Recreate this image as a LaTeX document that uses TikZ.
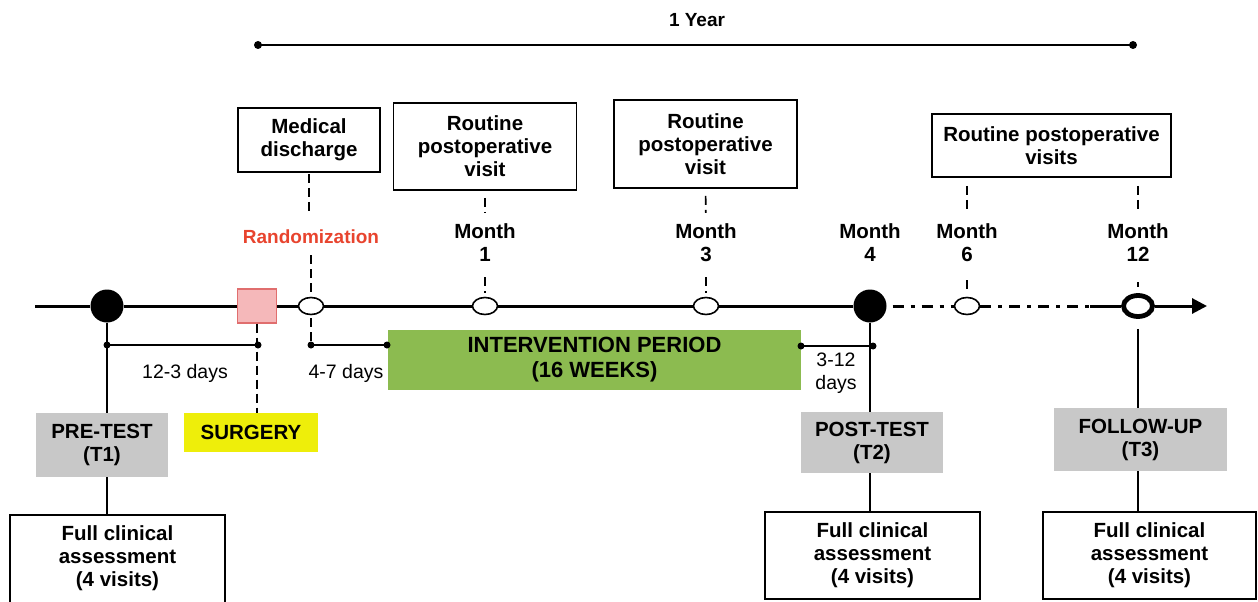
\documentclass[tikz,border=0pt]{standalone}
\usepackage{fontspec}
\setmainfont{Liberation Sans}
\usetikzlibrary{shapes.geometric,arrows.meta}
\definecolor{greyfill}{HTML}{C8C8C8}
\definecolor{yellowfill}{HTML}{EEEE0A}
\definecolor{greenfill}{HTML}{8CBB50}
\definecolor{pinkfill}{HTML}{F5B8BA}
\definecolor{pinkdraw}{HTML}{E06E6E}
\definecolor{randred}{HTML}{E8442E}
\begin{document}
\begin{tikzpicture}[x=1pt,y=-1pt,
  lbl/.style={font=\bfseries\fontsize{20.5}{23}\selectfont, align=center, inner sep=0pt},
  reg/.style={font=\fontsize{19.5}{23}\selectfont, align=center, inner sep=0pt},
  wbox/.style={lbl, draw, line width=1.8pt, fill=white},
  gbox/.style={lbl, fill=greyfill},
  tl/.style={line width=3pt},
  br/.style={line width=2.3pt},
  dsh/.style={line width=1.7pt, dash pattern=on 9pt off 5pt},
  ddot/.style={line width=3pt, dash pattern=on 11pt off 7pt on 4pt off 7pt},
  openev/.style={ellipse, draw, line width=1.6pt, fill=white, minimum width=25pt, minimum height=17pt, inner sep=0pt},
  bigdot/.style={circle, fill=black, minimum size=33pt, inner sep=0pt},
  endpt/.style={circle, fill=black, minimum size=7pt, inner sep=0pt}
]
\useasboundingbox (0,0) rectangle (1258,602);
\fill[white] (0,0) rectangle (1258,602);

% 1 year span
\node[lbl, font=\bfseries\fontsize{19}{22}\selectfont] (year) at (697,20) {1 Year};
\node[endpt, minimum size=8pt] (y0) at (258,45) {};
\node[endpt, minimum size=8pt] (y1) at (1133,45) {};
\draw[line width=2.6pt] (y0.center) -- (y1.center);

% top boxes
\node[wbox, minimum width=142pt, minimum height=64pt] (md) at (309,140) {Medical\\discharge};
\node[wbox, minimum width=183pt, minimum height=87pt] (rv1) at (485,146.5) {Routine\\postoperative\\visit};
\node[wbox, minimum width=183pt, minimum height=88pt] (rv3) at (705.5,144) {Routine\\postoperative\\visit};
\node[wbox, minimum width=239pt, minimum height=63pt] (rvs) at (1051.5,145.5) {Routine postoperative\\visits};

% labels above the timeline
\node[lbl, font=\bfseries\fontsize{19}{22}\selectfont, text=randred] (rand) at (311,237) {Randomization};
\node[lbl] (m1) at (485,243) {Month\\1};
\node[lbl] (m3) at (706,243) {Month\\3};
\node[lbl] (m4) at (870,243) {Month\\4};
\node[lbl] (m6) at (967,243) {Month\\6};
\node[lbl] (m12) at (1138,243) {Month\\12};

% timeline events
\coordinate (tl0) at (35,306);
\coordinate (sol) at (1090,306);
\coordinate (tlend) at (1207,306);
\node[bigdot] (c1) at (107,306) {};
\node[draw=pinkdraw, fill=pinkfill, line width=1.2pt, minimum width=39pt, minimum height=34pt, inner sep=0pt] (sq) at (257,306) {};
\node[openev] (e0) at (311,306) {};
\node[openev] (e1) at (485,306) {};
\node[openev] (e3) at (706,306) {};
\node[bigdot] (c4) at (870,306) {};
\node[openev] (e6) at (967,306) {};
\node[ellipse, draw, line width=4.8pt, fill=white, minimum width=29pt, minimum height=21pt, inner sep=0pt] (r12) at (1138,306) {};

\draw[tl] (tl0) -- (c1) -- (sq) -- (e0) -- (e1) -- (e3) -- (c4);
\draw[ddot, shorten <=6pt] (c4) -- (e6);
\draw[ddot] (e6) -- (sol);
\draw[tl] (sol) -- (r12);
\draw[tl, -{Triangle[length=15pt,width=15pt]}] (r12) -- (tlend);

% dashed connectors above
\draw[dsh, shorten <=1pt, shorten >=19pt] (md.south) -- (md.south |- rand.north);
\draw[dsh, shorten <=11pt] (rand.south) -- (e0);
\draw[dsh, shorten <=7pt, shorten >=11pt] (rv1.south) -- (m1.north);
\draw[dsh, shorten <=15pt, shorten >=4pt] (m1.south) -- (e1);
\draw[dsh, shorten <=7pt, shorten >=11pt] (rv3.south) -- (m3.north);
\draw[dsh, shorten <=15pt, shorten >=4pt] (m3.south) -- (e3);
\draw[dsh, shorten <=8pt, shorten >=11pt] (rvs.south -| m6) -- (m6.north);
\draw[dsh, shorten <=18pt, shorten >=4pt] (m6.south) -- (e6);
\draw[dsh, shorten <=8pt, shorten >=11pt] (rvs.south -| m12) -- (m12.north);
\draw[dsh, shorten <=20pt, shorten >=6pt] (m12.south) -- (r12);

% bottom boxes
\node[gbox, minimum width=132pt, minimum height=64pt] (pre) at (102,445) {PRE-TEST\\(T1)};
\node[lbl, fill=yellowfill, minimum width=134pt, minimum height=39pt] (surg) at (251,432.5) {SURGERY};
\node[lbl, fill=greenfill, font=\bfseries\fontsize{22}{25}\selectfont, minimum width=413pt, minimum height=60pt] (interv) at (594.5,359.5) {INTERVENTION PERIOD\\(16 WEEKS)};
\node[gbox, minimum width=142pt, minimum height=61pt] (post) at (872,442.5) {POST-TEST\\(T2)};
\node[gbox, minimum width=173pt, minimum height=63pt] (fu) at (1140.5,439.5) {FOLLOW-UP\\(T3)};

\node[lbl, minimum width=215pt, minimum height=87pt] (fca1) at (117.5,558.5) {Full clinical\\assessment\\(4 visits)};
\draw[line width=1.8pt] (fca1.south west) -- (fca1.north west) -- (fca1.north east) -- (fca1.south east);
\node[wbox, minimum width=215pt, minimum height=87pt] (fca2) at (872.5,555.5) {Full clinical\\assessment\\(4 visits)};
\node[wbox, minimum width=213pt, minimum height=87pt] (fca3) at (1149.5,555.5) {Full clinical\\assessment\\(4 visits)};

% brackets
\coordinate (b1) at (107,345);
\coordinate (b2) at (258,345);
\coordinate (b3) at (311,345);
\coordinate (b4) at (387,345);
\coordinate (b5) at (801,346);
\coordinate (b6) at (873,346);
\draw[br] (b1) -- (b2);
\draw[br] (b3) -- (b4);
\draw[br] (b5) -- (b6);
\foreach \p in {b1,b2,b3,b4,b5,b6} \node[endpt] at (\p) {};

\node[reg] (d1) at (185,373) {12-3 days};
\node[reg] (d2) at (346,373) {4-7 days};
\node[reg] (d3) at (836,373) {3-12\\days};

% vertical connectors
\draw[br] (c1) -- (c1 |- pre.north);
\draw[br] (pre.south -| c1) -- (fca1.north -| c1);
\draw[dsh] (sq) -- (sq |- surg.north);
\draw[dsh, shorten <=3pt] (e0) -- (b3);
\draw[br] (c4) -- (c4 |- post.north);
\draw[br] (post.south -| c4) -- (fca2.north -| c4);
\draw[br, shorten <=10pt] (r12) -- (r12 |- fu.north);
\draw[br] (fu.south -| r12) -- (fca3.north -| r12);
\end{tikzpicture}
\end{document}
